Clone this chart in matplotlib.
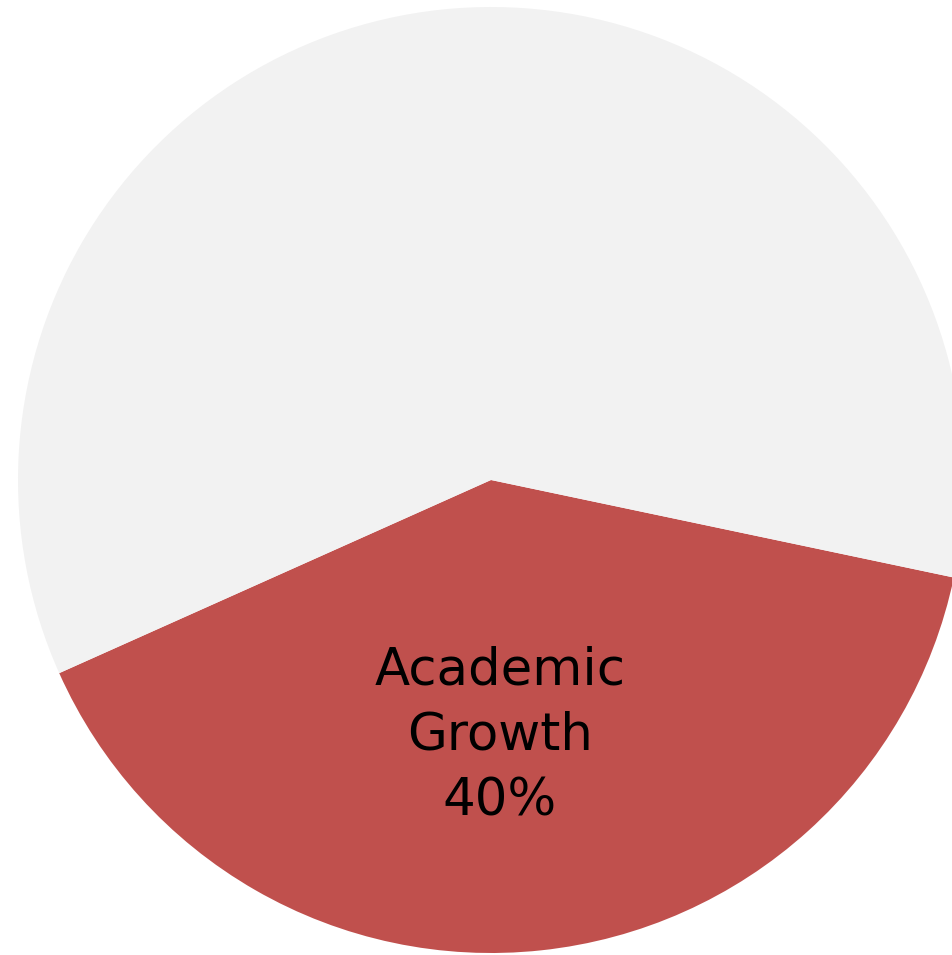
import matplotlib.pyplot as plt

labels = ["Academic\nGrowth", ""]
shares = [40, 60]
colors = ["#C0504D", "#F2F2F2"]

W, H = 953, 955
cx, cy, r = 491, 480, 473  # pie centre / radius in pixels

fig = plt.figure(figsize=(W / 100, H / 100), dpi=100)
ax = fig.add_axes([0, 0, 1, 1])
ax.pie(shares, colors=colors, startangle=204.1, counterclock=True,
       wedgeprops=dict(linewidth=0))
ax.set_xlim(-cx / r, (W - cx) / r)
ax.set_ylim(-(H - cy) / r, cy / r)
ax.set_aspect("equal")
ax.axis("off")

ax.text((500 - cx) / r, (cy - 736) / r, f"{labels[0]}\n{shares[0]}%",
        ha="center", va="center", fontsize=37, color="black",
        linespacing=1.4, family="DejaVu Sans")

fig.savefig("out.png", dpi=100)
